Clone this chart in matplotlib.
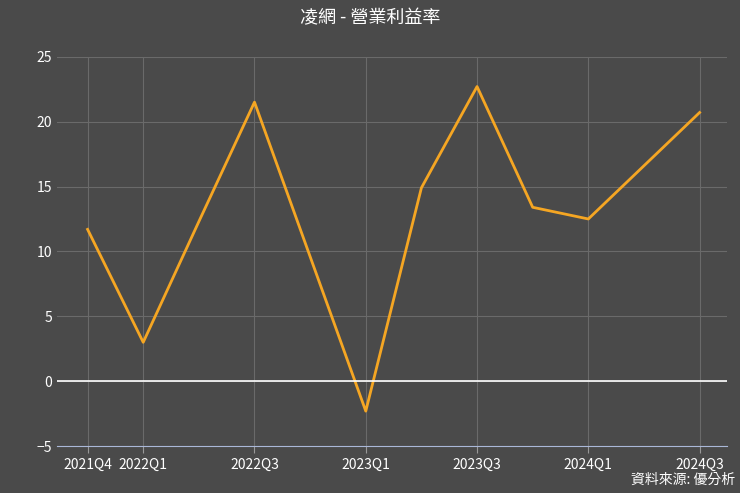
import matplotlib
matplotlib.use("Agg")
import matplotlib.pyplot as plt

plt.rcParams['font.family'] = ['Noto Sans CJK TC', 'DejaVu Sans']

quarters = ["2021Q4","2022Q1","2022Q2","2022Q3","2022Q4","2023Q1","2023Q2","2023Q3","2023Q4","2024Q1","2024Q2","2024Q3"]
values = [11.7, 3.0, 12.3, 21.5, 9.6, -2.3, 14.9, 22.7, 13.4, 12.5, 16.6, 20.7]
tick_labels = ["2021Q4","2022Q1","2022Q3","2023Q1","2023Q3","2024Q1","2024Q3"]

bg = "#4a4a4a"
fig = plt.figure(figsize=(7.4, 4.93), dpi=100, facecolor=bg)
ax = fig.add_axes([0.077, 0.095, 0.906, 0.79], facecolor=bg)
x = list(range(len(quarters)))
ax.plot(x, values, color="#f5a623", lw=2)
ticks = [quarters.index(t) for t in tick_labels]
ax.set_xticks(ticks)
ax.set_xticklabels(tick_labels, color="white", fontsize=10)
ax.set_xlim(-0.55, 11.5)
ax.set_ylim(-5, 25)
ax.set_yticks([-5, 0, 5, 10, 15, 20, 25])
ax.tick_params(axis='y', colors="white", labelsize=10, length=0)
ax.tick_params(axis='x', colors="#999999", length=5)
for t in ax.get_xticklabels():
    t.set_color("white")
ax.grid(True, color="#6a6a6a", lw=0.8)
ax.axhline(0, color="white", lw=1.2)
for s in ["top", "right", "left"]:
    ax.spines[s].set_visible(False)
ax.spines["bottom"].set_color("#aab8d8")
fig.text(0.5, 0.962, "凌網 - 營業利益率", color="white", fontsize=13, ha="center", va="center")
fig.text(0.993, 0.012, "資料來源: 優分析", color="white", fontsize=10, ha="right", va="bottom")
fig.savefig("out.png", facecolor=bg)
